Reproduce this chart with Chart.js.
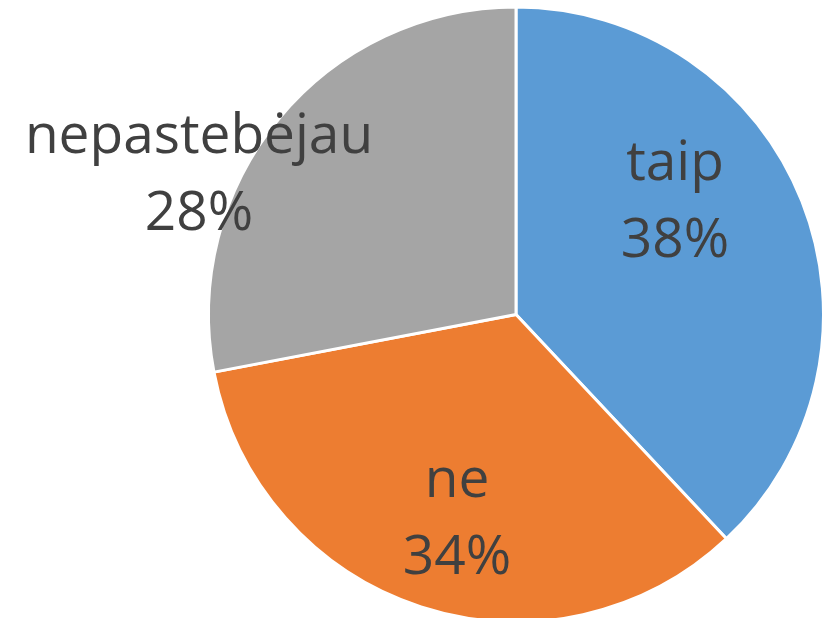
<!DOCTYPE html>
<html>
<head>
<meta charset="utf-8">
<script src="https://cdn.jsdelivr.net/npm/chart.js@4/dist/chart.umd.min.js"></script>
<style>
  html, body { margin: 0; padding: 0; background: #fff; overflow: hidden; }
  #wrap { width: 825px; height: 618px; overflow: hidden; }
</style>
</head>
<body>
<div id="wrap"><canvas id="pie" width="825" height="630"></canvas></div>
<script>
const categories = ['taip', 'ne', 'nepastebėjau'];
const shares = [38, 34, 28];
const colors = ['#5B9BD5', '#ED7D31', '#A5A5A5'];

// label spots (centre x, baseline of first line) per slice
const labelSpots = [[675, 180], [457, 497], [199, 153]];

const labelPlugin = {
  id: 'pieLabels',
  afterDraw(chart) {
    const ctx = chart.ctx;
    ctx.save();
    // size font so the longest label spans about 348px like the original
    ctx.font = '100px "Open Sans"';
    const w = ctx.measureText('nepastebėjau').width;
    const size = Math.round(100 * 348 / w);
    ctx.font = size + 'px "Open Sans"';
    ctx.fillStyle = '#404040';
    ctx.textAlign = 'center';
    ctx.textBaseline = 'alphabetic';
    categories.forEach((c, i) => {
      const [x, y] = labelSpots[i];
      ctx.fillText(c, x, y);
      ctx.fillText(shares[i] + '%', x, y + 77);
    });
    ctx.restore();
  }
};

new Chart(document.getElementById('pie'), {
  type: 'pie',
  data: {
    labels: categories,
    datasets: [{
      data: shares,
      backgroundColor: colors,
      borderColor: '#ffffff',
      borderWidth: 3
    }]
  },
  options: {
    responsive: false,
    animation: false,
    layout: { padding: { left: 207, right: 0, top: 5, bottom: 6 } },
    plugins: {
      legend: { display: false },
      tooltip: { enabled: false }
    }
  },
  plugins: [labelPlugin]
});
</script>
</body>
</html>
